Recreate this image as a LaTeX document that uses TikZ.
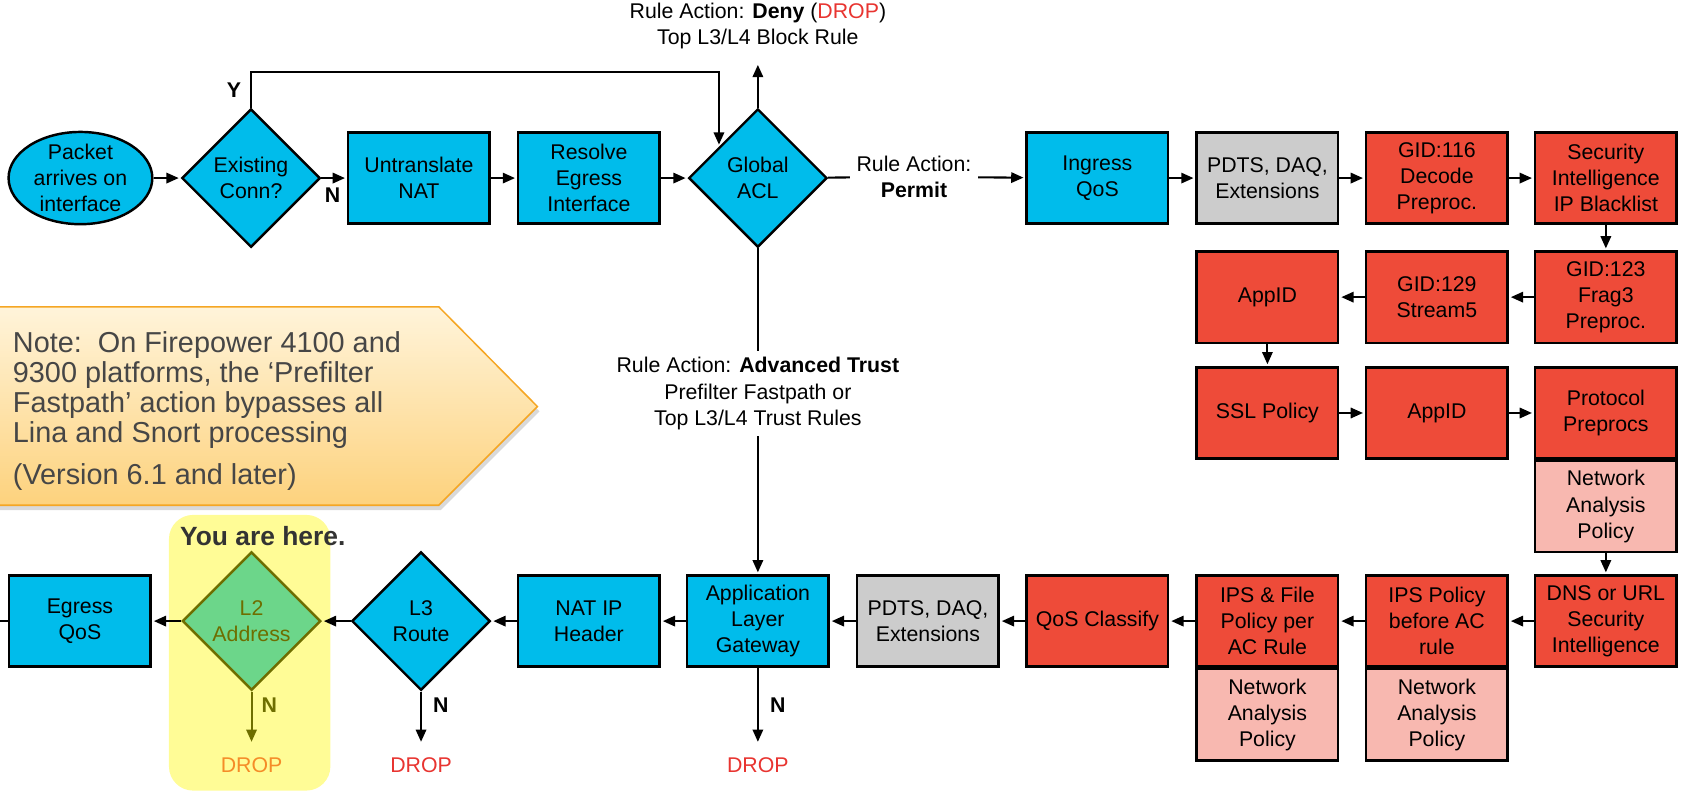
\documentclass[tikz,border=0pt]{standalone}
\usepackage{fontspec}
\setmainfont{Liberation Sans}
\usepackage{xcolor}
\usetikzlibrary{
  arrows.meta,
  shapes.geometric,
  positioning,
  shadows
}
\definecolor{linacyan}{RGB}{0,188,235}
\definecolor{snortred}{RGB}{238,75,57}
\definecolor{daqgray}{RGB}{204,204,204}
\definecolor{nappink}{RGB}{248,184,176}
\definecolor{l2green}{RGB}{108,214,138}
\definecolor{olive2}{RGB}{110,110,0}
\definecolor{dropred}{RGB}{232,52,48}
\definecolor{droporange}{RGB}{245,140,40}
\definecolor{hilite}{RGB}{255,252,150}
\definecolor{notetop}{RGB}{255,244,218}
\definecolor{notebot}{RGB}{253,210,125}
\definecolor{noteline}{RGB}{245,166,35}
\definecolor{notetext}{RGB}{70,70,70}
\tikzset{
  flow/.style={
    -{Triangle[length=6.5pt,width=5.5pt]}, line width=1.1pt, shorten >=1pt
  },
  wire/.style={line width=1.1pt},
  stage/.style={
    draw, rectangle, line width=1.3pt,
    minimum width=2.64cm, minimum height=1.7cm,
    align=center, inner sep=1pt
  },
  lina box/.style={stage, fill=linacyan},
  snort box/.style={stage, fill=snortred},
  daq box/.style={stage, fill=daqgray},
  nap box/.style={stage, fill=nappink},
  decision/.style={
    draw, diamond, aspect=1, line width=1.3pt,
    minimum width=2.58cm, minimum height=2.58cm,
    inner sep=0pt, align=center, fill=linacyan
  },
  yn/.style={font=\fontsize{11.3}{13.9}\selectfont\bfseries},
  drop/.style={text=dropred, inner ysep=7pt},
}

\begin{document}
\begin{tikzpicture}[font=\fontsize{11.3}{13.9}\selectfont]
  \useasboundingbox (0,0) rectangle (31.36,14.74);

  % Highlight behind the L2 check
  \fill[hilite, rounded corners=0.45cm] (3.15,0) rectangle (6.16,5.14);
  \node[font=\fontsize{14}{16}\selectfont\bfseries, text={rgb,255:red,51;green,51;blue,51}]
    (here) at (4.9, 4.74) {You are here.};

  % Fastpath note
  \path[draw=noteline, line width=0.8pt, top color=notetop, bottom color=notebot,
        drop shadow={opacity=0.3, shadow xshift=0.04cm, shadow yshift=-0.09cm}]
    (-0.2,9.02) -- (8.18,9.02) -- (10.02,7.16) -- (8.18,5.32) -- (-0.2,5.32) -- cycle;
  \node[anchor=north west, inner sep=0pt, align=left, text=notetext,
        font=\fontsize{15.3}{15.9}\selectfont] (note) at (0.234, 8.56)
    {Note:\ \ On Firepower 4100 and\\9300 platforms, the ‘Prefilter\\%
     Fastpath’ action bypasses all\\Lina and Snort processing\\[6.5pt]%
     (Version 6.1 and later)};

  % Ingress: Lina
  \node[draw, ellipse, line width=1.3pt, fill=linacyan, align=center,
        minimum width=2.68cm, minimum height=1.72cm, inner xsep=0pt, inner ysep=-3pt]
    (pkt) at (1.5, 11.42) {Packet\\arrives on\\interface};
  \node[decision] (econn) at (4.68, 11.42) {Existing\\Conn?};
  \node[lina box] (untrans) at (7.81, 11.42) {Untranslate\\NAT};
  \node[lina box] (egressif) at (10.98, 11.42) {Resolve\\Egress\\Interface};
  \node[decision] (acl) at (14.13, 11.42) {Global\\ACL};

  \draw[flow] (pkt) -- (econn);
  \draw[flow] (econn) -- (untrans);
  \node[yn] (no1) at (6.2, 11.1) {N};
  \draw[flow] (untrans) -- (egressif);
  \draw[flow] (egressif) -- (acl);
  \draw[flow] (econn.north) -- ++(0,0.66) -| (acl.141);
  \node[yn] (yes1) at (4.36, 13.06) {Y};

  % ACL outcomes
  \node[align=center] (deny) at (14.13, 14.26)
    {Rule Action: \textbf{Deny} (\textcolor{dropred}{DROP})\\Top L3/L4 Block Rule};
  \draw[flow] (acl.north) -- ([yshift=-4pt]deny.south);
  \node[align=center] (permit) at (17.04, 11.44) {Rule Action:\\\textbf{Permit}};
  \draw[wire] (acl) -- (permit);
  \node[align=center] (trust) at (14.13, 7.4)
    {Rule Action: \textbf{Advanced Trust}\\Prefilter Fastpath or\\Top L3/L4 Trust Rules};
  \draw[wire] (acl) -- (trust);

  % Snort inspection
  \node[lina box] (ingress) at (20.46, 11.42) {Ingress\\QoS};
  \node[daq box] (pdtsin) at (23.63, 11.42) {PDTS, DAQ,\\Extensions};
  \node[snort box] (gid116) at (26.79, 11.42) {GID:116\\Decode\\Preproc.};
  \node[snort box] (siip) at (29.94, 11.42) {Security\\Intelligence\\IP Blacklist};
  \node[snort box] (gid123) at (29.94, 9.2) {GID:123\\Frag3\\Preproc.};
  \node[snort box] (gid129) at (26.79, 9.2) {GID:129\\Stream5};
  \node[snort box] (appida) at (23.63, 9.2) {AppID};
  \node[snort box] (ssl) at (23.63, 7.04) {SSL Policy};
  \node[snort box] (appidb) at (26.79, 7.04) {AppID};
  \node[snort box] (proto) at (29.94, 7.04) {Protocol\\Preprocs};
  \node[nap box, below=0pt of proto] (napproto) {Network\\Analysis\\Policy};

  \draw[flow] (permit) -- (ingress);
  \draw[flow] (ingress) -- (pdtsin);
  \draw[flow] (pdtsin) -- (gid116);
  \draw[flow] (gid116) -- (siip);
  \draw[flow] (siip) -- (gid123);
  \draw[flow] (gid123) -- (gid129);
  \draw[flow] (gid129) -- (appida);
  \draw[flow] (appida) -- (ssl);
  \draw[flow] (ssl) -- (appidb);
  \draw[flow] (appidb) -- (proto);

  % Policy and egress
  \node[snort box] (dnsurl) at (29.94, 3.16) {DNS or URL\\Security\\Intelligence};
  \node[snort box] (ipspre) at (26.79, 3.16) {IPS Policy\\before AC\\rule};
  \node[nap box, below=0pt of ipspre] (napipspre) {Network\\Analysis\\Policy};
  \node[snort box] (ipsfile) at (23.63, 3.16) {IPS \& File\\Policy per\\AC Rule};
  \node[nap box, below=0pt of ipsfile] (napipsfile) {Network\\Analysis\\Policy};
  \node[snort box] (qoscls) at (20.46, 3.16) {QoS Classify};
  \node[daq box] (pdtsout) at (17.3, 3.16) {PDTS, DAQ,\\Extensions};
  \node[lina box] (alg) at (14.13, 3.16) {Application\\Layer\\Gateway};
  \node[lina box] (natip) at (10.98, 3.16) {NAT IP\\Header};
  \node[decision] (l3) at (7.85, 3.16) {L3\\Route};
  \node[decision, fill=l2green, draw=olive2, text=olive2] (l2) at (4.69, 3.16) {L2\\Address};
  \node[lina box] (egressqos) at (1.49, 3.16) {Egress\\QoS};
  \coordinate (egressout) at (0, 3.16);

  \draw[flow] (napproto) -- (dnsurl);
  \draw[flow] (dnsurl) -- (ipspre);
  \draw[flow] (ipspre) -- (ipsfile);
  \draw[flow] (ipsfile) -- (qoscls);
  \draw[flow] (qoscls) -- (pdtsout);
  \draw[flow] (pdtsout) -- (alg);
  \draw[flow] (trust) -- (alg);
  \draw[flow] (alg) -- (natip);
  \draw[flow] (natip) -- (l3);
  \draw[flow] (l3) -- (l2);
  \draw[flow] (l2) -- (egressqos);
  \draw[wire] (egressqos) -- (egressout);

  % Drops
  \node[drop] (dropalg) at (14.13, 0.48) {DROP};
  \node[drop] (dropl3) at (7.85, 0.48) {DROP};
  \node[drop, text=droporange] (dropl2) at (4.69, 0.48) {DROP};
  \draw[flow] (alg) -- (dropalg);
  \draw[flow] (l3) -- (dropl3);
  \draw[flow, draw=olive2] (l2) -- (dropl2);
  \node[yn] (no2) at (14.5, 1.6) {N};
  \node[yn] (no3) at (8.22, 1.6) {N};
  \node[yn, text=olive2] (no4) at (5.02, 1.6) {N};

\end{tikzpicture}
\end{document}
